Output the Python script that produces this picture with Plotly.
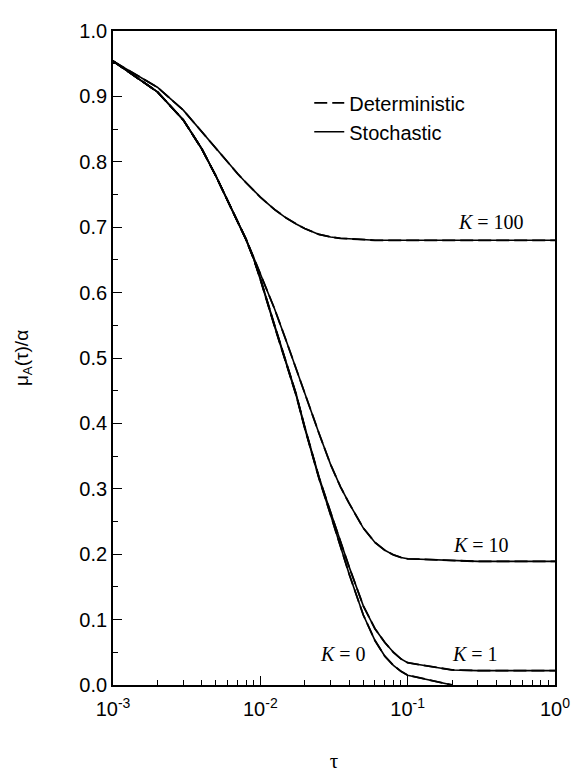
import math
import plotly.graph_objects as go

# ---- data ----
tau = [0.001, 0.002, 0.003, 0.004, 0.005, 0.006, 0.007, 0.008, 0.009, 0.01,
       0.0125, 0.015, 0.0175, 0.02, 0.025, 0.03, 0.035, 0.04, 0.05, 0.06,
       0.07, 0.08, 0.09, 0.1, 0.2, 0.3, 0.5, 1.0]

k100 = [0.954, 0.914, 0.879, 0.846, 0.820, 0.799, 0.782, 0.768, 0.756, 0.746,
        0.727, 0.714, 0.705, 0.698, 0.689, 0.685, 0.683, 0.682, 0.681, 0.680,
        0.680, 0.680, 0.680, 0.680, 0.680, 0.680, 0.680, 0.680]

k10 = [0.954, 0.907, 0.864, 0.820, 0.778, 0.741, 0.710, 0.682, 0.654, 0.628,
       0.575, 0.526, 0.483, 0.446, 0.385, 0.337, 0.303, 0.278, 0.240, 0.218,
       0.206, 0.199, 0.195, 0.193, 0.190, 0.189, 0.189, 0.189]

k1 = [0.954, 0.907, 0.864, 0.820, 0.778, 0.740, 0.709, 0.681, 0.652, 0.622,
      0.550, 0.495, 0.445, 0.395, 0.318, 0.264, 0.219, 0.181, 0.121, 0.086,
      0.065, 0.050, 0.040, 0.034, 0.023, 0.022, 0.022, 0.022]

k0 = [0.954, 0.907, 0.864, 0.820, 0.778, 0.740, 0.709, 0.681, 0.652, 0.620,
      0.548, 0.493, 0.443, 0.393, 0.316, 0.260, 0.212, 0.170, 0.107, 0.068,
      0.044, 0.030, 0.021, 0.015, 0.0, None, None, None]

# deterministic and stochastic results coincide on the plot
stochastic = {"100": k100, "10": k10, "1": k1, "0": k0}
deterministic = {"100": k100, "10": k10, "1": k1, "0": k0}

labels = ["100", "10", "1", "0"]
label_x = [0.365, 0.314, 0.287, 0.0365]
label_y = [0.708, 0.214, 0.047, 0.047]

x_ticks = [0.001, 0.01, 0.1, 1.0]
x_ticktext = ["10<sup>-3</sup>", "10<sup>-2</sup>", "10<sup>-1</sup>", "10<sup>0</sup>"]
x_minor = [m * d for d in (0.001, 0.01, 0.1) for m in range(2, 10)]

fig = go.Figure()

first = True
for k in labels:
    fig.add_trace(go.Scatter(
        x=tau, y=stochastic[k], mode="lines",
        line=dict(color="black", width=1.6),
        name="Stochastic", legendrank=2, showlegend=first,
        connectgaps=False))
    first = False

first = True
for k in labels:
    fig.add_trace(go.Scatter(
        x=tau, y=deterministic[k], mode="lines",
        line=dict(color="black", width=1.8, dash="13px,5px"),
        name="Deterministic", legendrank=1, showlegend=first,
        connectgaps=False))
    first = False

for k, lx, ly in zip(labels, label_x, label_y):
    fig.add_annotation(
        x=math.log10(lx), y=ly, xref="x", yref="y",
        text="<i>K</i> = " + k, showarrow=False,
        font=dict(family="Liberation Serif", size=20, color="black"))

# the page body adds an 8px offset, so the figure is sized to fit the window
fig.update_layout(
    width=574, height=773,
    margin=dict(l=96, r=19, t=13, b=85),
    paper_bgcolor="white", plot_bgcolor="white",
    font=dict(family="Liberation Sans", size=20, color="black"),
    legend=dict(x=0.444, y=0.92, xanchor="left", yanchor="top",
                bgcolor="rgba(0,0,0,0)", font=dict(size=20),
                tracegroupgap=0),
    xaxis=dict(
        type="log", range=[-3, 0],
        tickmode="array", tickvals=x_ticks, ticktext=x_ticktext,
        ticks="inside", ticklen=9, tickwidth=1.2, tickcolor="black",
        ticklabelstandoff=5,
        minor=dict(tickmode="array", tickvals=x_minor, ticks="inside",
                   ticklen=5, tickwidth=1.2, tickcolor="black", showgrid=False),
        showline=True, linecolor="black", linewidth=1.8, mirror=True,
        showgrid=False, zeroline=False,
        tickfont=dict(size=20),
        title=dict(text="τ", font=dict(family="Liberation Serif", size=21),
                   standoff=34),
    ),
    yaxis=dict(
        range=[0, 1], dtick=0.1, tick0=0, tickformat=".1f",
        ticks="inside", ticklen=9, tickwidth=1.2, tickcolor="black",
        minor=dict(dtick=0.05, ticks="inside", ticklen=5, tickwidth=1.2,
                   tickcolor="black", showgrid=False),
        showline=True, linecolor="black", linewidth=1.8, mirror=True,
        showgrid=False, zeroline=False,
        tickfont=dict(size=20),
        title=dict(text="μ<sub>A</sub>(τ)/α",
                   font=dict(family="Liberation Sans", size=19),
                   standoff=46),
    ),
)

fig.write_html("out.html")
